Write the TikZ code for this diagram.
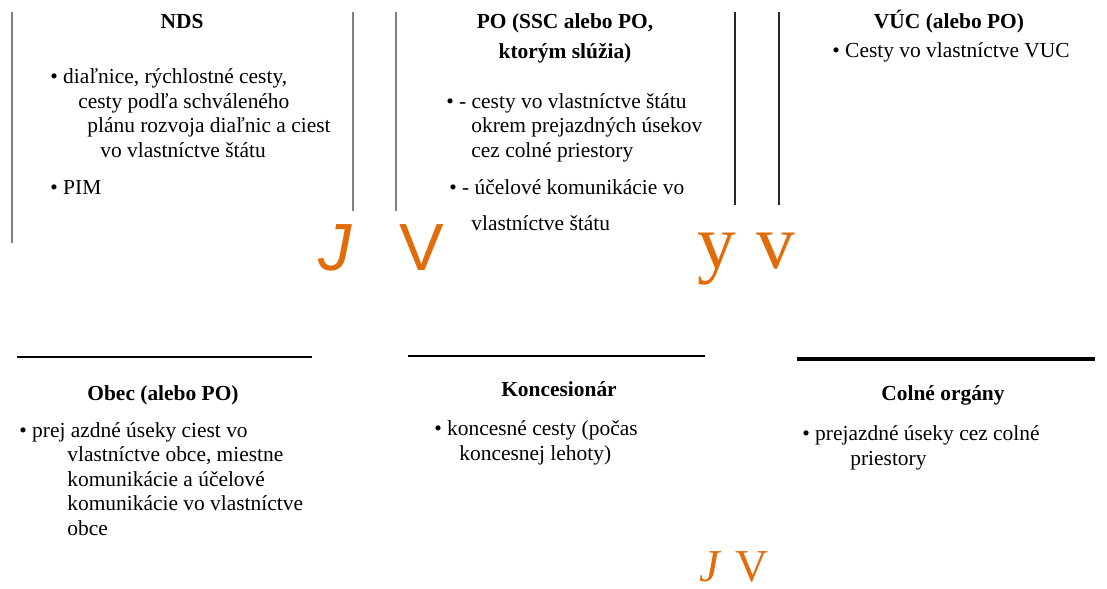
\documentclass[tikz,border=0pt]{standalone}
\usepackage{fontspec}
\setmainfont{Liberation Serif}
\newfontfamily\marksans{Liberation Sans}
\usepackage{tikz}
\usepackage{xcolor}
\definecolor{mark-orange}{HTML}{E36C0A}
\tikzset{
    head-text/.style = {font=\fontsize{12.2}{17}\selectfont\bfseries, anchor=base, inner sep=0pt, align=center},
    item-text/.style = {font=\fontsize{12.2}{13.9}\selectfont, anchor=base west, inner sep=0pt, align=left},
    mark-text/.style = {text=mark-orange, anchor=base west, inner sep=0pt},
    gray-rule/.style = {draw=black!50, line width=0.85pt},
    dark-rule/.style = {draw=black!85, line width=0.85pt},
    row-rule/.style = {draw=black, line width=1.1pt},
}

\begin{document}
\begin{tikzpicture}[x=0.02cm, y=-0.02cm]
\useasboundingbox (0,0) rectangle (1107,589);
% column rules on top
\draw[gray-rule] (12,12) -- (12,243);
\draw[gray-rule] (353,12) -- (353,211);
\draw[gray-rule] (396,12) -- (396,211);
\draw[dark-rule] (735,12) -- (735,205);
\draw[dark-rule] (779,12) -- (779,205);
% row rules below
\draw[row-rule] (17,357) -- (312,357);
\draw[row-rule] (408,356) -- (705,356);
\draw[row-rule, line width=2.3pt] (797,359) -- (1095,359);

% multi-line nodes sit on the baseline of their last line
\node[head-text] (nds-title) at (182,28) {NDS};
\node[item-text] (nds-list) at (50,157) {• diaľnice, rýchlostné cesty,\\\hspace*{0.56cm}cesty podľa schváleného\\\hspace*{0.74cm}plánu rozvoja diaľnic a ciest\\\hspace*{1cm}vo vlastníctve štátu};
\node[item-text] (nds-pim) at (50,194) {• PIM};

\node[head-text] (po-title) at (565,58) {PO (SSC alebo PO,\\ktorým slúžia)};
\node[item-text] (po-list) at (446,157) {• - cesty vo vlastníctve štátu\\\hspace*{0.5cm}okrem prejazdných úsekov\\\hspace*{0.5cm}cez colné priestory};
\node[item-text] (po-list-b) at (449,230) {• - účelové komunikácie vo\\[0.23cm]\hspace*{0.44cm}vlastníctve štátu};

\node[head-text] (vuc-title) at (949,28) {VÚC (alebo PO)};
\node[item-text] (vuc-list) at (832,57) {• Cesty vo vlastníctve VUC};

\node[head-text] (obec-title) at (163,400) {Obec (alebo PO)};
\node[item-text] (obec-list) at (19,535) {• prej azdné úseky ciest vo\\\hspace*{0.96cm}vlastníctve obce, miestne\\\hspace*{0.96cm}komunikácie a účelové\\\hspace*{0.96cm}komunikácie vo vlastníctve\\\hspace*{0.96cm}obce};

\node[head-text] (konc-title) at (559,396) {Koncesionár};
\node[item-text] (konc-list) at (434,460) {• koncesné cesty (počas\\\hspace*{0.5cm}koncesnej lehoty)};

\node[head-text] (colne-title) at (943,400) {Colné orgány};
\node[item-text] (colne-list) at (802,465) {• prejazdné úseky cez colné\\\hspace*{0.96cm}priestory};

% orange marks
\node[mark-text, font=\marksans\itshape\fontsize{38}{40}\selectfont] (mark-j) at (318,270) {J};
\node[mark-text, font=\marksans\fontsize{38}{40}\selectfont] (mark-v) at (399,270) {V};
\node[mark-text, font=\fontsize{44}{46}\selectfont] (mark-y) at (697,268) {y};
\node[mark-text, font=\fontsize{44}{46}\selectfont] (mark-vv) at (756,268) {v};
\node[mark-text, font=\fontsize{26}{28}\selectfont] (mark-jv) at (699,581) {\textit{J}\hspace{0.3em}V};
\end{tikzpicture}
\end{document}
